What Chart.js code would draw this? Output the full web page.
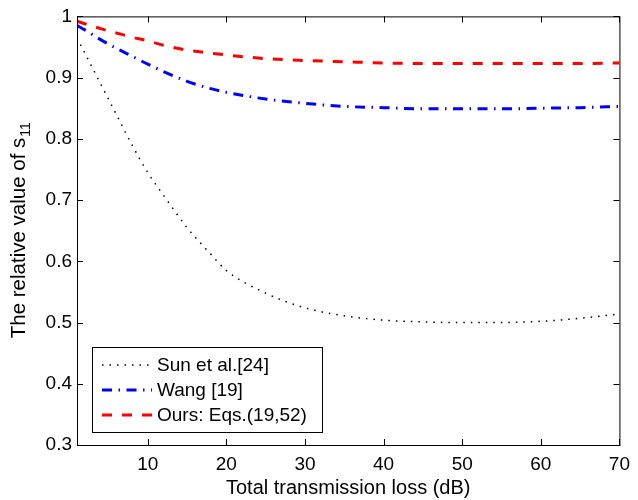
<!DOCTYPE html>
<html>
<head>
<meta charset="utf-8">
<script src="https://cdn.jsdelivr.net/npm/chart.js@4.4.0/dist/chart.umd.min.js"></script>
<style>
  html, body { margin: 0; padding: 0; background: #fff; }
  #wrap { width: 638px; height: 500px; }
</style>
</head>
<body>
<div id="wrap"><canvas id="chart" width="638" height="500"></canvas></div>
<script>
// values
const lossDb = [1, 2, 3, 4, 6, 8, 10, 12, 15, 18, 20, 25, 30, 35, 40, 45, 50, 55, 60, 65, 70];
const sunValues = [0.965, 0.94, 0.915, 0.89, 0.84, 0.79, 0.745, 0.708, 0.655, 0.612, 0.585, 0.548, 0.524, 0.511, 0.504, 0.501, 0.500, 0.500, 0.502, 0.507, 0.514];
const wangValues = [0.985, 0.978, 0.970, 0.962, 0.948, 0.935, 0.922, 0.910, 0.894, 0.882, 0.876, 0.865, 0.858, 0.853, 0.851, 0.849, 0.849, 0.849, 0.850, 0.851, 0.853];
const oursValues = [0.992, 0.988, 0.984, 0.980, 0.973, 0.966, 0.960, 0.953, 0.945, 0.940, 0.937, 0.931, 0.928, 0.926, 0.924, 0.923, 0.923, 0.923, 0.923, 0.923, 0.924];
const seriesNames = ['Sun et al.[24]', 'Wang [19]', 'Ours: Eqs.(19,52)'];
const xTicks = [10, 20, 30, 40, 50, 60, 70];
const yTicks = [0.3, 0.4, 0.5, 0.6, 0.7, 0.8, 0.9, 1];

const FONT = '"Liberation Sans", Arial, Helvetica, sans-serif';

const toPoints = vals => vals.map((v, i) => ({ x: lossDb[i], y: v }));

// MATLAB-like frame: box, inward ticks on all sides, boxed legend, y title with subscript
const matlabFrame = {
    id: 'matlabFrame',
    afterDatasetsDraw(chart) {
        const ctx = chart.ctx;
        const a = chart.chartArea;
        const xs = chart.scales.x, ys = chart.scales.y;
        ctx.save();
        ctx.strokeStyle = '#000';
        ctx.lineWidth = 1;
        ctx.setLineDash([]);
        ctx.strokeRect(a.left + 0.5, a.top + 0.5, a.right - a.left, a.bottom - a.top);
        const tl = 6;
        ctx.beginPath();
        xTicks.forEach(v => {
            const px = Math.round(xs.getPixelForValue(v)) + 0.5;
            ctx.moveTo(px, a.bottom); ctx.lineTo(px, a.bottom - tl);
            ctx.moveTo(px, a.top); ctx.lineTo(px, a.top + tl);
        });
        yTicks.forEach(v => {
            const py = Math.round(ys.getPixelForValue(v)) + 0.5;
            ctx.moveTo(a.left, py); ctx.lineTo(a.left + tl, py);
            ctx.moveTo(a.right, py); ctx.lineTo(a.right - tl, py);
        });
        ctx.stroke();

        // legend box
        const lx = a.left + 15, ly = a.bottom - 98, lw = 230, lh = 85;
        ctx.fillStyle = '#fff';
        ctx.fillRect(lx, ly, lw, lh);
        ctx.strokeRect(lx + 0.5, ly + 0.5, lw, lh);
        ctx.font = '19px ' + FONT;
        ctx.textBaseline = 'middle';
        ctx.textAlign = 'left';
        chart.data.datasets.forEach((ds, i) => {
            const ry = ly + 18 + i * 25;
            ctx.beginPath();
            ctx.strokeStyle = ds.borderColor;
            ctx.lineWidth = ds.borderWidth;
            ctx.setLineDash(ds.borderDash || []);
            ctx.moveTo(lx + 10, ry);
            ctx.lineTo(lx + 60, ry);
            ctx.stroke();
            ctx.setLineDash([]);
            ctx.fillStyle = '#000';
            ctx.fillText(ds.label, lx + 65, ry + 1);
        });

        // y axis title with subscript
        ctx.translate(18, (a.top + a.bottom) / 2);
        ctx.rotate(-Math.PI / 2);
        const main = 'The relative value of s';
        ctx.font = '20.5px ' + FONT;
        const w1 = ctx.measureText(main).width;
        ctx.font = '14px ' + FONT;
        const w2 = ctx.measureText('11').width;
        const start = -(w1 + w2) / 2;
        ctx.textAlign = 'left';
        ctx.textBaseline = 'alphabetic';
        ctx.font = '20.5px ' + FONT;
        ctx.fillText(main, start, 7);
        ctx.font = '14px ' + FONT;
        ctx.fillText('11', start + w1 + 1, 12);
        ctx.restore();
    }
};

new Chart(document.getElementById('chart'), {
    type: 'line',
    data: {
        datasets: [
            {
                label: seriesNames[0],
                data: toPoints(sunValues),
                borderColor: '#000',
                borderWidth: 1.5,
                borderDash: [1.5, 6],
                pointRadius: 0,
                cubicInterpolationMode: 'monotone',
                fill: false
            },
            {
                label: seriesNames[1],
                data: toPoints(wangValues),
                borderColor: '#0000ff',
                borderWidth: 3,
                borderDash: [10, 6.5, 1.5, 6.5],
                pointRadius: 0,
                cubicInterpolationMode: 'monotone',
                fill: false
            },
            {
                label: seriesNames[2],
                data: toPoints(oursValues),
                borderColor: '#ff0000',
                borderWidth: 3,
                borderDash: [10, 10],
                pointRadius: 0,
                cubicInterpolationMode: 'monotone',
                fill: false
            }
        ]
    },
    options: {
        responsive: false,
        animation: false,
        layout: { padding: { top: 14, right: 11, left: 0, bottom: 0 } },
        plugins: {
            legend: { display: false },
            tooltip: { enabled: false }
        },
        scales: {
            x: {
                type: 'linear',
                min: 1,
                max: 70,
                afterBuildTicks: s => { s.ticks = xTicks.map(v => ({ value: v })); },
                afterFit: s => { s.height = 55; },
                grid: { display: false, drawTicks: false },
                border: { display: false },
                ticks: {
                    color: '#000',
                    padding: 8,
                    maxRotation: 0,
                    autoSkip: false,
                    font: { family: FONT, size: 19 }
                },
                title: {
                    display: true,
                    text: 'Total transmission loss (dB)',
                    color: '#000',
                    padding: { top: 0, bottom: 0 },
                    font: { family: FONT, size: 20 }
                }
            },
            y: {
                type: 'linear',
                min: 0.3,
                max: 1,
                afterBuildTicks: s => { s.ticks = yTicks.map(v => ({ value: v })); },
                afterFit: s => { s.width = 77; },
                grid: { display: false, drawTicks: false },
                border: { display: false },
                ticks: {
                    color: '#000',
                    padding: 5,
                    autoSkip: false,
                    font: { family: FONT, size: 19 },
                    callback: v => (v === 1 ? '1' : v.toFixed(1))
                }
            }
        }
    },
    plugins: [matlabFrame]
});
</script>
</body>
</html>
